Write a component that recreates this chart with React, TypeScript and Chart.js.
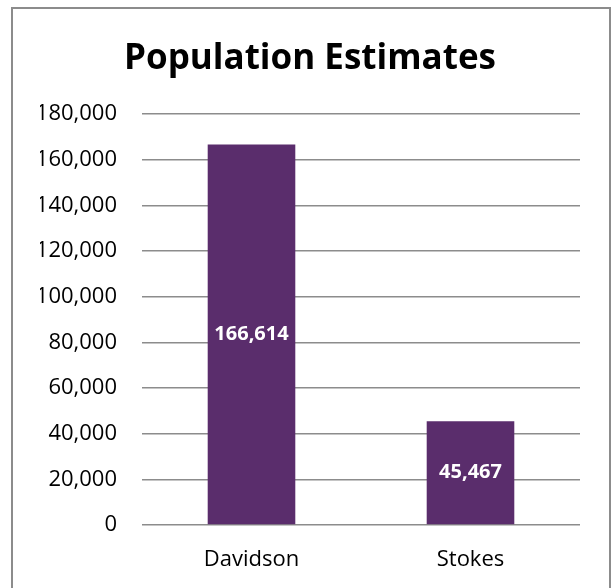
import React, { useEffect, useRef } from "react";
import { Chart, registerables } from "chart.js";

Chart.register(...registerables);

const counties = ["Davidson", "Stokes"];
const population = [166614, 45467];
const yMin = 0;
const yMax = 180000;
const yStep = 20000;

const FONT = "'Open Sans', 'Noto Sans', sans-serif";
const fmt = (v: number) => v.toLocaleString("en-US");

const barLabels = {
  id: "barLabels",
  afterDatasetsDraw(chart: Chart) {
    const ctx = chart.ctx;
    const meta = chart.getDatasetMeta(0);
    ctx.save();
    ctx.font = `bold 20px ${FONT}`;
    ctx.fillStyle = "#ffffff";
    ctx.textAlign = "center";
    ctx.textBaseline = "middle";
    meta.data.forEach((el: any, i: number) => {
      const v = chart.data.datasets[0].data[i] as number;
      ctx.fillText(fmt(v), el.x, (el.y + el.base) / 2);
    });
    ctx.restore();
  },
};

export default function App(): React.ReactElement {
  const canvasRef = useRef<HTMLCanvasElement | null>(null);

  useEffect(() => {
    if (!canvasRef.current) return;
    const chart = new Chart(canvasRef.current, {
      type: "bar",
      data: {
        labels: counties,
        datasets: [
          {
            label: "Population",
            data: population,
            backgroundColor: "#5A2D6C",
            barPercentage: 0.4,
            categoryPercentage: 1,
          },
        ],
      },
      options: {
        responsive: true,
        maintainAspectRatio: false,
        animation: false,
        layout: { padding: { left: 40, right: 31, top: 0, bottom: 0 } },
        plugins: {
          legend: { display: false },
          tooltip: { enabled: false },
          title: {
            display: true,
            text: "Population Estimates",
            color: "#000000",
            font: { family: FONT, size: 35, weight: "bold", lineHeight: 1.2 },
            padding: { top: 38, bottom: 34 },
          },
        },
        scales: {
          x: {
            grid: { display: false },
            border: { display: false },
            ticks: { color: "#000000", padding: 14, font: { family: FONT, size: 22 } },
            afterFit: (scale: any) => {
              scale.height = 63;
            },
          },
          y: {
            min: yMin,
            max: yMax,
            border: { display: false },
            grid: { color: "#8c8c8c", lineWidth: 1.5, drawTicks: false },
            ticks: {
              stepSize: yStep,
              color: "#000000",
              padding: 25,
              font: { family: FONT, size: 22 },
              callback: (value) => fmt(Number(value)),
            },
            afterFit: (scale: any) => {
              scale.width = 102;
            },
          },
        },
      },
      plugins: [barLabels],
    });
    return () => chart.destroy();
  }, []);

  return (
    <div style={{ position: "fixed", left: 0, top: 0, width: 611, height: 588, overflow: "hidden", background: "#fff" }}>
      <div
        style={{
          position: "absolute",
          left: 11,
          top: 7,
          width: 600,
          height: 600,
          boxSizing: "border-box",
          border: "2px solid #8c8c8c",
        }}
      />
      <div style={{ position: "absolute", left: 0, top: 0, width: 611, height: 588 }}>
        <canvas ref={canvasRef} />
      </div>
    </div>
  );
}
